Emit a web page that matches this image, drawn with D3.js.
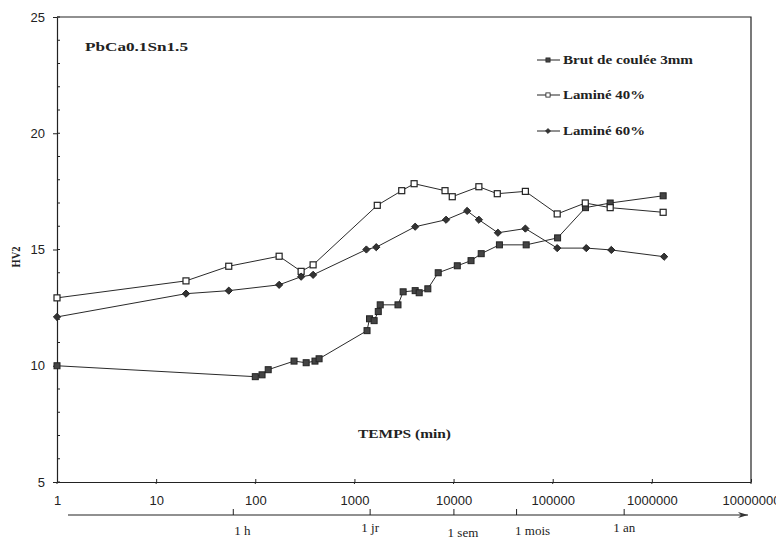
<!DOCTYPE html>
<html>
<head>
<meta charset="utf-8">
<script src="https://cdn.jsdelivr.net/npm/d3@7"></script>
<style>
  body { margin: 0; background: #fff; }
  svg { font-family: "Liberation Serif", "Times New Roman", serif; }
  .axis path, .axis line { stroke: #222; }
  .axis text { fill: #222; font-size: 13px; }
</style>
</head>
<body>
<div id="chart"></div>
<script>

// time (min) / HV2 values
var brutT  = [1, 100, 117, 135, 246, 326, 400, 440, 1340, 1420, 1580, 1740, 1820, 2750, 3100, 4100, 4500, 5500, 7000, 10900, 15000, 19000, 29000, 54000, 112000, 214000, 380000, 1300000];
var brutHV = [10.0, 9.53, 9.61, 9.83, 10.2, 10.13, 10.2, 10.3, 11.51, 12.02, 11.94, 12.33, 12.62, 12.62, 13.18, 13.23, 13.14, 13.31, 14.0, 14.3, 14.52, 14.82, 15.2, 15.2, 15.5, 16.8, 17.0, 17.31];

var lam40T  = [1, 20, 54, 174, 290, 383, 1700, 3000, 4000, 8200, 9700, 18000, 27600, 53000, 111000, 213000, 380000, 1300000];
var lam40HV = [12.92, 13.65, 14.28, 14.71, 14.06, 14.34, 16.9, 17.53, 17.83, 17.53, 17.27, 17.7, 17.4, 17.5, 16.53, 17.0, 16.8, 16.6];

var lam60T  = [1, 20, 54, 174, 290, 383, 1320, 1660, 4100, 8400, 13700, 18000, 28000, 53000, 111000, 218000, 390000, 1330000];
var lam60HV = [12.1, 13.1, 13.23, 13.48, 13.83, 13.91, 15.0, 15.1, 15.98, 16.28, 16.66, 16.28, 15.72, 15.9, 15.06, 15.06, 14.98, 14.69];

var seriesNames = ["Brut de coulée 3mm", "Laminé 40%", "Laminé 60%"];
var xTicks = [1, 10, 100, 1000, 10000, 100000, 1000000, 10000000];
var yTicks = [5, 10, 15, 20, 25];
var yMinor = d3.range(5, 26, 1);
var timeMarks  = [60, 1440, 10080, 43200, 525600];
var timeLabels = ["1 h", "1 jr", "1 sem", "1 mois", "1 an"];

var W = 776, H = 543;
var plotL = 57, plotR = 751, plotT = 17, plotB = 482;

var svg = d3.select("#chart").append("svg")
    .attr("width", W)
    .attr("height", H);

var x = d3.scaleLog().domain([1, 1e7]).range([plotL, plotR]);
var y = d3.scaleLinear().domain([5, 25]).range([plotB, plotT]);

// frame (top and right)
svg.append("path")
    .attr("d", "M" + plotL + "," + plotT + "H" + plotR + "V" + plotB)
    .attr("fill", "none")
    .attr("stroke", "#222")
    .attr("stroke-width", 1.2);

// minor y ticks, pointing inward
svg.append("g").selectAll("line")
    .data(yMinor)
    .enter().append("line")
    .attr("x1", plotL).attr("x2", plotL + 3)
    .attr("y1", d => y(d)).attr("y2", d => y(d))
    .attr("stroke", "#222");

var xAxis = d3.axisBottom(x)
    .tickValues(xTicks)
    .tickFormat(d3.format("d"))
    .tickSizeInner(-3)
    .tickSizeOuter(0)
    .tickPadding(14);

svg.append("g")
    .attr("class", "axis x")
    .attr("transform", "translate(0," + plotB + ")")
    .call(xAxis);

// ticks crossing below the axis line
svg.append("g").selectAll("line")
    .data(xTicks)
    .enter().append("line")
    .attr("x1", d => x(d)).attr("x2", d => x(d))
    .attr("y1", plotB).attr("y2", plotB + 2)
    .attr("stroke", "#222");

var yAxis = d3.axisLeft(y)
    .tickValues(yTicks)
    .tickSizeInner(4)
    .tickSizeOuter(0)
    .tickPadding(8);

svg.append("g")
    .attr("class", "axis y")
    .attr("transform", "translate(" + plotL + ",0)")
    .call(yAxis);

svg.selectAll(".axis path").attr("stroke-width", 1.2);

// second time axis with arrow
svg.append("defs").append("marker")
    .attr("id", "arrow")
    .attr("viewBox", "0 0 10 6")
    .attr("refX", 10).attr("refY", 3)
    .attr("markerWidth", 12).attr("markerHeight", 6)
    .attr("markerUnits", "userSpaceOnUse")
    .attr("orient", "auto")
    .append("path")
    .attr("d", "M0,0L10,3L0,6L3,3Z")
    .attr("fill", "#333");

var tAxisY = 515;
svg.append("line")
    .attr("x1", 68).attr("x2", 748)
    .attr("y1", tAxisY).attr("y2", tAxisY)
    .attr("stroke", "#222")
    .attr("stroke-width", 1.1)
    .attr("marker-end", "url(#arrow)");

var labelShift = [9, 0, 9, 16, 0];
var labelDrop = [20, 17, 22, 20, 17];

var tg = svg.append("g").selectAll("g")
    .data(timeMarks)
    .enter().append("g")
    .attr("transform", d => "translate(" + x(d) + "," + tAxisY + ")");

tg.append("line")
    .attr("y1", -6).attr("y2", 0)
    .attr("stroke", "#222");

tg.append("text")
    .attr("y", (d, i) => labelDrop[i])
    .attr("x", (d, i) => labelShift[i])
    .attr("text-anchor", "middle")
    .attr("font-size", "13px")
    .attr("fill", "#222")
    .text((d, i) => timeLabels[i]);

// lines
var line = d3.line()
    .x(d => x(d[0]))
    .y(d => y(d[1]));

var series = [
    d3.zip(brutT, brutHV),
    d3.zip(lam40T, lam40HV),
    d3.zip(lam60T, lam60HV)
];

series.forEach(function (s) {
    svg.append("path")
        .datum(s)
        .attr("d", line)
        .attr("fill", "none")
        .attr("stroke", "#2a2a2a")
        .attr("stroke-width", 1);
});

function drawMarker(g, kind) {
    if (kind == 0) {
        g.append("rect")
            .attr("x", -3).attr("y", -3)
            .attr("width", 6).attr("height", 6)
            .attr("fill", "#444")
            .attr("stroke", "#222");
    } else if (kind == 1) {
        g.append("rect")
            .attr("x", -3).attr("y", -3)
            .attr("width", 6).attr("height", 6)
            .attr("fill", "#fff")
            .attr("stroke", "#222")
            .attr("stroke-width", 1.2);
    } else {
        g.append("path")
            .attr("d", "M0,-3.6L3.6,0L0,3.6L-3.6,0Z")
            .attr("fill", "#333")
            .attr("stroke", "#222");
    }
}

series.forEach(function (s, k) {
    svg.append("g").selectAll("g")
        .data(s)
        .enter().append("g")
        .attr("transform", d => "translate(" + x(d[0]) + "," + y(d[1]) + ")")
        .each(function () { drawMarker(d3.select(this), k); });
});

// legend (scanned text is wider than the font, so stretch it)
var legendY = [60, 95, 131];
var legendLen = [130, 82, 82];
seriesNames.forEach(function (name, k) {
    var g = svg.append("g").attr("transform", "translate(537," + legendY[k] + ")");
    g.append("line").attr("x1", 0).attr("x2", 23).attr("stroke", "#222");
    var m = g.append("g").attr("transform", "translate(11,0) scale(0.7)");
    drawMarker(m, k);
    g.append("text")
        .attr("x", 26).attr("y", 3.5)
        .attr("font-size", "12px")
        .attr("font-weight", "bold")
        .attr("fill", "#222")
        .attr("textLength", legendLen[k])
        .attr("lengthAdjust", "spacingAndGlyphs")
        .text(name);
});

// titles
svg.append("text")
    .attr("x", 85).attr("y", 51)
    .attr("font-size", "13px")
    .attr("font-weight", "bold")
    .attr("fill", "#222")
    .attr("textLength", 103)
    .attr("lengthAdjust", "spacingAndGlyphs")
    .text("PbCa0.1Sn1.5");

svg.append("text")
    .attr("transform", "translate(20,257) rotate(-90)")
    .attr("text-anchor", "middle")
    .attr("font-size", "12px")
    .attr("font-weight", "bold")
    .attr("fill", "#222")
    .attr("textLength", 21)
    .attr("lengthAdjust", "spacingAndGlyphs")
    .text("HV2");

svg.append("text")
    .attr("x", 358).attr("y", 438)
    .attr("font-size", "12.5px")
    .attr("font-weight", "bold")
    .attr("fill", "#222")
    .attr("textLength", 93)
    .attr("lengthAdjust", "spacingAndGlyphs")
    .text("TEMPS (min)");

</script>
</body>
</html>
